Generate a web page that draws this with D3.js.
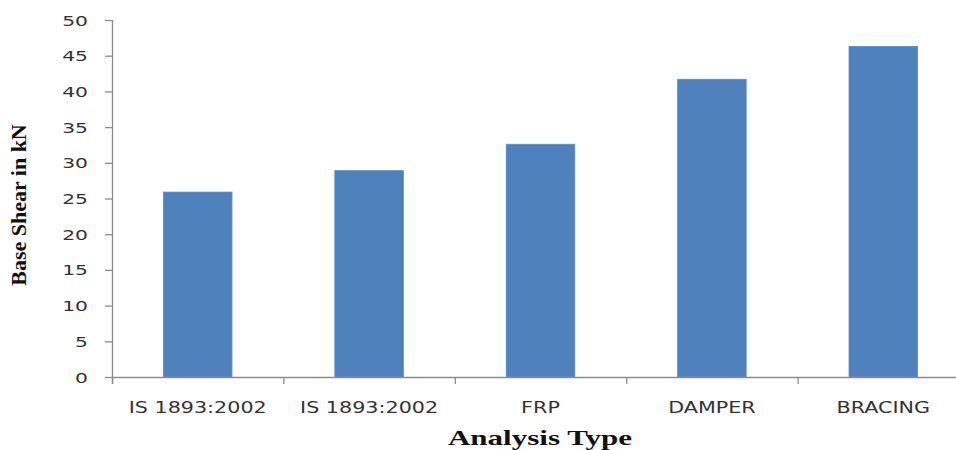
<!DOCTYPE html>
<html>
<head>
<meta charset="utf-8">
<script src="https://cdn.jsdelivr.net/npm/d3@7"></script>
<style>
  html, body { margin: 0; padding: 0; background: #fff; }
  svg { display: block; }
</style>
</head>
<body>
<svg id="chart" width="956" height="450"></svg>
<script>
// Base shear per analysis type
const categories = ["IS 1893:2002", "IS 1893:2002", "FRP", "DAMPER", "BRACING"];
const baseShear = [25.9, 28.9, 32.6, 41.7, 46.3];
const yTicks = [0, 5, 10, 15, 20, 25, 30, 35, 40, 45, 50];

const svg = d3.select("#chart");
const plotLeft = 112, plotRight = 969, plotTop = 20, plotBottom = 377;
const stretchY = 1.45;         // wide lettering on the value axis
const stretchX = 1.38;         // and on the category axis
const axisColor = "#8c8c8c";
const labelColor = "#333333";

// two categories share a name, so the band scale is keyed by position
const x = d3.scaleBand()
  .domain(d3.range(categories.length))
  .range([plotLeft, plotRight])
  .paddingInner(0.6)
  .paddingOuter(0.3);

const y = d3.scaleLinear().domain([0, 50]).range([plotBottom, plotTop]);

// bars
svg.append("g")
  .selectAll("rect")
  .data(baseShear)
  .join("rect")
  .attr("x", (d, i) => x(i))
  .attr("y", d => y(d))
  .attr("width", x.bandwidth())
  .attr("height", d => y(0) - y(d))
  .attr("fill", "#4f81bd")
  .attr("stroke", "#5b8cc6")
  .attr("stroke-width", 0.8);

// y axis
const yAxis = svg.append("g")
  .attr("transform", `translate(${plotLeft},0)`)
  .call(d3.axisLeft(y).tickValues(yTicks).tickSize(7).tickSizeOuter(0).tickPadding(0));
yAxis.select(".domain").attr("stroke", axisColor).attr("stroke-width", 1.3)
  .attr("d", `M0.5,${plotTop}V${plotBottom + 7}`);
yAxis.selectAll(".tick line").attr("stroke", axisColor).attr("stroke-width", 1.3);
yAxis.selectAll(".tick text")
  .attr("x", -24 / stretchY)
  .attr("dy", "0.36em")
  .attr("transform", `scale(${stretchY},1)`)
  .attr("font-family", "DejaVu Sans, Verdana, sans-serif")
  .attr("font-size", 14)
  .attr("fill", labelColor);

// x axis: labels centred in each band, ticks on band boundaries
const xAxis = svg.append("g")
  .attr("transform", `translate(0,${plotBottom})`)
  .call(d3.axisBottom(x).tickSize(0).tickSizeOuter(0).tickFormat(i => categories[i]));
xAxis.select(".domain").attr("stroke", axisColor).attr("stroke-width", 1.3)
  .attr("d", `M${plotLeft},0.5H${plotRight}`);
xAxis.selectAll(".tick text")
  .attr("y", 0)
  .attr("dy", 0)
  .attr("transform", `translate(0,36) scale(${stretchX},1)`)
  .attr("font-family", "DejaVu Sans, Verdana, sans-serif")
  .attr("font-size", 15)
  .attr("fill", labelColor);

const step = x.step();
xAxis.append("g")
  .selectAll("line")
  .data(d3.range(categories.length + 1))
  .join("line")
  .attr("x1", i => plotLeft + i * step + 0.5)
  .attr("x2", i => plotLeft + i * step + 0.5)
  .attr("y1", 0)
  .attr("y2", 7)
  .attr("stroke", axisColor)
  .attr("stroke-width", 1.3);

// axis titles
svg.append("text")
  .attr("transform", `translate(540,445) scale(1.41,1)`)
  .attr("text-anchor", "middle")
  .attr("font-family", "Liberation Serif, Times New Roman, serif")
  .attr("font-weight", "bold")
  .attr("font-size", 22)
  .attr("fill", "#111")
  .text("Analysis Type");

svg.append("text")
  .attr("transform", `translate(26,205) rotate(-90) scale(1,0.92)`)
  .attr("text-anchor", "middle")
  .attr("font-family", "Liberation Serif, Times New Roman, serif")
  .attr("font-weight", "bold")
  .attr("font-size", 22)
  .attr("fill", "#111")
  .text("Base Shear in kN");
</script>
</body>
</html>
